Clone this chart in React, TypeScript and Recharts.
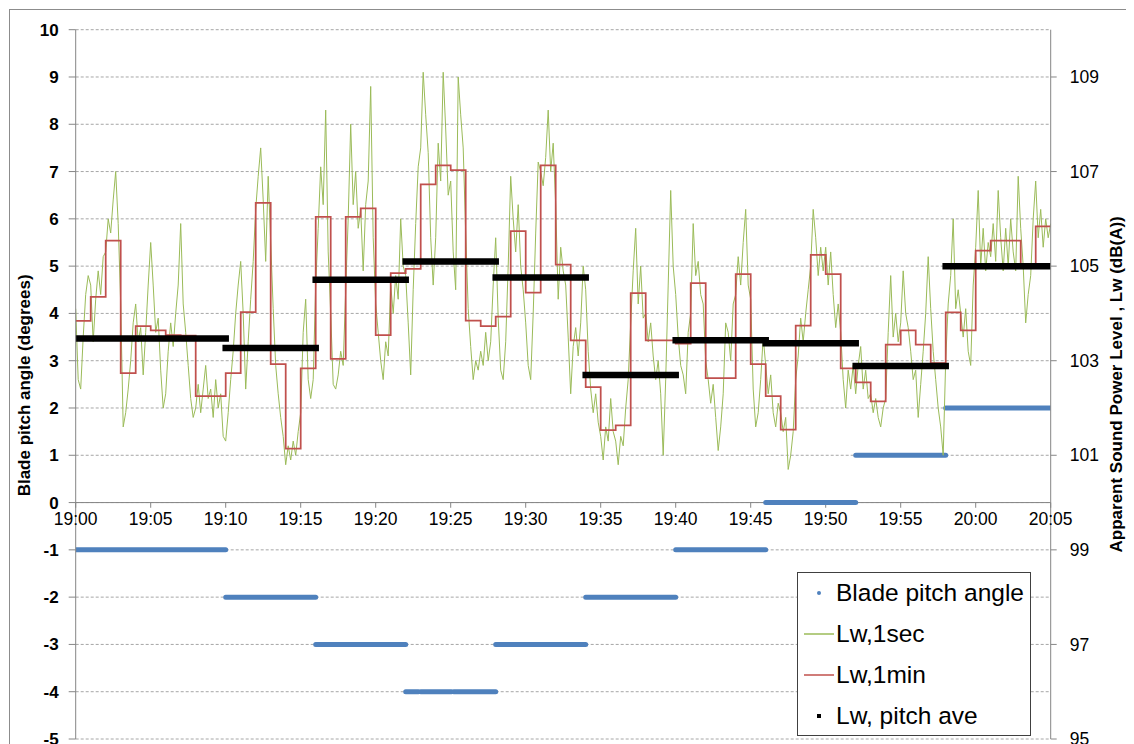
import React from 'react';
import { ComposedChart, Line, XAxis, YAxis, CartesianGrid, ReferenceLine } from 'recharts';

// x values are minutes after 19:00
const tickTimes = [0, 5, 10, 15, 20, 25, 30, 35, 40, 45, 50, 55, 60, 65];
const tickLabels = ['19:00', '19:05', '19:10', '19:15', '19:20', '19:25', '19:30', '19:35', '19:40', '19:45', '19:50', '19:55', '20:00', '20:05'];
const leftTicks = [-5, -4, -3, -2, -1, 0, 1, 2, 3, 4, 5, 6, 7, 8, 9, 10];
const rightTicks = [95, 97, 99, 101, 103, 105, 107, 109];

// Blade pitch angle runs (minutes, degrees)
const pitchRunStart = [0, 10, 16, 22, 23.0, 25.2, 28, 34, 40, 46, 52, 58];
const pitchRunEnd = [10, 16, 22, 22.85, 25.05, 28, 34, 40, 46, 52, 58, 65];
const pitchRunValue = [-1, -2, -3, -4, -4, -4, -3, -2, -1, 0, 1, 2];

// Lw, pitch ave (dB(A)) per pitch period
const aveStart = [0, 10, 16, 22, 25.2, 28, 34, 40, 46, 52, 58];
const aveEnd = [10, 16, 22, 25.05, 28, 34, 40, 46, 52, 58, 65];
const aveValue = [103.47, 103.27, 104.71, 105.1, 105.1, 104.76, 102.7, 103.43, 103.37, 102.89, 105.0];

// Lw, 1 min (dB(A)) for minutes 0..64
const lw1min = [
  103.84, 104.35, 105.54, 102.74, 103.73, 103.64, 103.54, 103.53, 102.25, 102.25,
  102.74, 104.03, 106.34, 102.93, 101.14, 102.84, 106.04, 103.04, 106.04, 106.22,
  103.54, 104.85, 104.94, 106.73, 107.13, 107.03, 103.85, 103.73, 103.93, 105.74,
  104.44, 107.13, 105.03, 103.43, 102.44, 101.53, 101.63, 104.43, 103.43, 103.43,
  103.36, 104.64, 102.63, 102.63, 104.83, 102.93, 102.25, 101.54, 103.74, 105.24,
  104.83, 102.84, 102.54, 102.14, 103.34, 103.64, 103.34, 102.95, 104.02, 103.64,
  105.33, 105.54, 105.54, 105.04, 105.84,
];

// Lw, 1 sec trace read every 10 s (dB(A)), one row per minute
const lw1sec = [
  [104.1, 102.6, 102.4, 103.5, 104.4, 104.8],
  [104.6, 103.4, 104.3, 104.9, 104.4, 105.2],
  [105.3, 106.0, 105.7, 106.4, 107.0, 105.9],
  [104.2, 101.6, 101.9, 102.4, 103.0, 103.8],
  [104.2, 103.4, 103.7, 102.7, 103.6, 104.6],
  [105.5, 104.6, 103.6, 103.9, 102.8, 102.0],
  [102.3, 103.2, 103.8, 103.3, 104.0, 104.6],
  [105.9, 104.2, 103.6, 102.9, 102.2, 101.8],
  [102.0, 102.5, 101.9, 102.4, 102.9, 102.2],
  [102.4, 101.8, 102.6, 102.0, 102.3, 101.4],
  [101.3, 101.9, 102.6, 103.2, 104.0, 104.6],
  [105.1, 104.0, 102.4, 103.4, 104.3, 105.1],
  [106.2, 106.9, 107.5, 106.4, 105.1, 106.9],
  [105.5, 104.1, 102.9, 102.3, 101.8, 101.4],
  [100.8, 101.2, 100.9, 101.3, 101.0, 101.5],
  [101.9, 103.6, 104.3, 102.6, 102.2, 102.6],
  [104.6, 105.8, 107.1, 106.3, 108.3, 105.3],
  [104.0, 102.5, 102.4, 102.7, 103.2, 102.9],
  [104.5, 106.0, 108.0, 106.3, 107.0, 105.8],
  [106.2, 104.9, 106.3, 106.8, 108.8, 105.6],
  [104.2, 103.6, 103.0, 102.6, 103.4, 103.1],
  [104.6, 104.0, 104.8, 104.3, 106.0, 105.0],
  [104.8, 103.8, 102.7, 104.5, 105.9, 107.1],
  [107.5, 109.1, 108.2, 107.4, 105.6, 104.6],
  [105.6, 107.6, 106.8, 109.1, 107.9, 106.5],
  [106.8, 105.3, 104.5, 109.0, 108.2, 107.5],
  [105.7, 104.1, 103.3, 102.6, 103.0, 102.8],
  [103.2, 102.9, 103.6, 103.0, 103.4, 104.6],
  [105.6, 103.9, 102.8, 102.6, 103.4, 105.0],
  [106.9, 106.0, 105.3, 106.3, 105.0, 104.5],
  [103.8, 102.9, 102.6, 104.0, 105.7, 107.2],
  [107.0, 106.7, 107.3, 108.3, 107.0, 107.6],
  [106.3, 104.3, 105.4, 104.9, 104.6, 103.5],
  [102.3, 103.3, 103.7, 103.1, 103.8, 105.0],
  [104.5, 103.2, 102.4, 101.9, 102.3, 101.7],
  [101.4, 100.9, 101.6, 101.3, 102.2, 101.5],
  [101.3, 100.8, 101.4, 101.2, 102.0, 102.6],
  [103.8, 104.9, 105.8, 104.2, 105.0, 103.9],
  [104.0, 103.4, 103.8, 103.1, 102.6, 103.0],
  [102.3, 101.0, 102.6, 104.6, 106.6, 105.0],
  [104.4, 103.5, 102.9, 102.7, 102.3, 103.6],
  [104.0, 105.9, 104.8, 105.1, 104.4, 104.2],
  [103.0, 102.6, 102.1, 102.5, 101.8, 101.1],
  [101.6, 102.3, 103.8, 103.6, 103.0, 104.2],
  [104.4, 105.2, 104.6, 105.5, 106.2, 104.6],
  [104.3, 102.4, 101.6, 101.9, 102.6, 103.5],
  [102.9, 102.3, 102.7, 101.9, 101.6, 102.1],
  [101.9, 101.5, 101.8, 100.7, 101.0, 101.5],
  [102.6, 103.1, 103.9, 103.4, 104.0, 104.5],
  [105.0, 106.2, 105.6, 104.8, 105.4, 104.9],
  [105.4, 104.6, 105.3, 104.4, 103.7, 104.2],
  [103.6, 102.6, 102.0, 102.8, 102.4, 102.9],
  [102.3, 102.9, 103.3, 102.4, 102.8, 102.2],
  [102.3, 101.9, 102.2, 101.8, 101.6, 102.0],
  [102.2, 103.6, 104.8, 103.5, 104.0, 103.4],
  [103.8, 104.9, 104.0, 103.7, 103.2, 102.6],
  [102.8, 101.8, 102.5, 103.2, 104.0, 105.2],
  [104.1, 103.2, 102.6, 102.0, 101.6, 101.0],
  [103.0, 104.2, 104.8, 106.0, 104.1, 104.5],
  [104.0, 103.5, 104.1, 103.2, 102.9, 104.6],
  [105.4, 106.6, 105.0, 105.8, 104.9, 105.5],
  [105.2, 105.9, 105.1, 106.6, 105.6, 104.9],
  [105.8, 105.0, 106.0, 105.3, 104.9, 106.9],
  [105.8, 105.0, 103.8, 104.4, 104.8, 106.0],
  [106.8, 105.6, 106.2, 105.4, 106.0, 105.6],
  [105.9],
];

const COLORS = { pitch: '#4f81bd', sec: '#9bbb59', min: '#c0504d', ave: '#000000', axis: '#868686', grid: '#a6a6a6' };

function runsToData(starts: number[], ends: number[], values: number[]) {
  const out: { t: number; v: number | null }[] = [];
  starts.forEach((s, i) => {
    out.push({ t: s, v: values[i] });
    out.push({ t: ends[i], v: values[i] });
    out.push({ t: ends[i], v: null });
  });
  return out;
}

const pitchData = runsToData(pitchRunStart, pitchRunEnd, pitchRunValue);
const aveData = runsToData(aveStart, aveEnd, aveValue);
const minData = [
  ...lw1min.map((v, i) => ({ t: i, v })),
  { t: lw1min.length, v: lw1min[lw1min.length - 1] },
];
const secData: { t: number; v: number }[] = [];
lw1sec.forEach((row, m) => row.forEach((v, k) => secData.push({ t: m + k / 6, v })));

const LeftTitle = (props: any) => {
  const vb = props.viewBox;
  const cx = vb.x + 17;
  const cy = vb.y + vb.height / 2 + 1;
  return (
    <text x={cx} y={cy} transform={`rotate(-90 ${cx} ${cy})`} textAnchor="middle" dominantBaseline="central" fontWeight="bold" fontSize={17} fill="#000">
      Blade pitch angle (degrees)
    </text>
  );
};

const RightTitle = (props: any) => {
  const vb = props.viewBox;
  const cx = vb.x + 66;
  const cy = vb.y + vb.height / 2;
  return (
    <text x={cx} y={cy} transform={`rotate(-90 ${cx} ${cy})`} textAnchor="middle" dominantBaseline="central" fontWeight="bold" fontSize={17} fill="#000">
      Apparent Sound Power Level , Lw (dB(A))
    </text>
  );
};

const legendItems = [
  { label: 'Blade pitch angle', kind: 'dot', color: COLORS.pitch },
  { label: 'Lw,1sec', kind: 'line', color: COLORS.sec },
  { label: 'Lw,1min', kind: 'line', color: COLORS.min },
  { label: 'Lw, pitch ave', kind: 'square', color: COLORS.ave },
];

export default function App() {
  return (
    <div style={{ position: 'relative', width: 1126, height: 736, overflow: 'hidden', fontFamily: '"Liberation Sans", Arial, sans-serif' }}>
      <style>{`html,body{overflow:hidden}`}</style>
      <div style={{ position: 'absolute', left: 1, top: 1, width: 1300, height: 900, borderTop: '1px solid #8c8c8c', borderLeft: '1px solid #8c8c8c' }} />
      <div style={{ position: 'absolute', left: 0, top: 0 }}>
        <ComposedChart width={1126} height={760} margin={{ top: 21.7, right: 0, left: 0, bottom: 29 }}>
          <XAxis xAxisId={0} type="number" dataKey="t" domain={[0, 65]} allowDataOverflow hide />
          <YAxis
            yAxisId="left"
            orientation="left"
            width={67.7}
            type="number"
            domain={[-5, 10]}
            ticks={leftTicks}
            interval={0}
            allowDataOverflow
            stroke={COLORS.axis}
            tickSize={7}
            tickMargin={10}
            tick={{ fill: '#000', fontSize: 17, fontWeight: 'bold' }}
            label={LeftTitle}
          />
          <YAxis
            yAxisId="right"
            orientation="right"
            width={83.3}
            type="number"
            domain={[95, 110]}
            ticks={rightTicks}
            interval={0}
            allowDataOverflow
            stroke={COLORS.axis}
            tickSize={6}
            tickMargin={13}
            tick={{ fill: '#000', fontSize: 17.5 }}
            label={RightTitle}
          />
          <CartesianGrid yAxisId="left" vertical={false} stroke={COLORS.grid} strokeDasharray="3 2" />
          <ReferenceLine yAxisId="left" y={0} stroke={COLORS.axis} />
          {tickTimes.map((t, i) => (
            <ReferenceLine
              key={t}
              yAxisId="left"
              segment={[{ x: t, y: 0 }, { x: t, y: -0.11 }]}
              stroke={COLORS.axis}
              label={{ value: tickLabels[i], position: 'bottom', offset: 5, fill: '#000', fontSize: 17.5 }}
            />
          ))}
          <Line yAxisId="left" data={pitchData} dataKey="v" type="linear" stroke={COLORS.pitch} strokeWidth={5} strokeLinecap="round" dot={false} isAnimationActive={false} connectNulls={false} />
          <Line yAxisId="right" data={secData} dataKey="v" type="linear" stroke={COLORS.sec} strokeWidth={1} dot={false} isAnimationActive={false} />
          <Line yAxisId="right" data={minData} dataKey="v" type="stepAfter" stroke={COLORS.min} strokeWidth={1.75} dot={false} isAnimationActive={false} />
          <Line yAxisId="right" data={aveData} dataKey="v" type="linear" stroke={COLORS.ave} strokeWidth={6.5} strokeLinecap="square" dot={false} isAnimationActive={false} connectNulls={false} />
        </ComposedChart>
      </div>
      <div style={{ position: 'absolute', left: 789, top: 564, width: 234, height: 164, border: '1px solid #404040', background: '#fff', boxSizing: 'border-box' }}>
        {legendItems.map((it, i) => (
          <div key={it.label} style={{ position: 'absolute', left: 0, top: 20 + i * 41 - 14, height: 28, width: 232 }}>
            <svg width={40} height={28} style={{ position: 'absolute', left: 0, top: 0 }}>
              {it.kind === 'dot' && <circle cx={21} cy={14} r={2} fill={it.color} />}
              {it.kind === 'line' && <line x1={6} y1={14} x2={36} y2={14} stroke={it.color} strokeWidth={1.5} />}
              {it.kind === 'square' && <rect x={19} y={12} width={4} height={4} fill={it.color} />}
            </svg>
            <span style={{ position: 'absolute', left: 38, top: 0, lineHeight: '28px', fontSize: 24.5, color: '#000', whiteSpace: 'nowrap' }}>{it.label}</span>
          </div>
        ))}
      </div>
    </div>
  );
}
